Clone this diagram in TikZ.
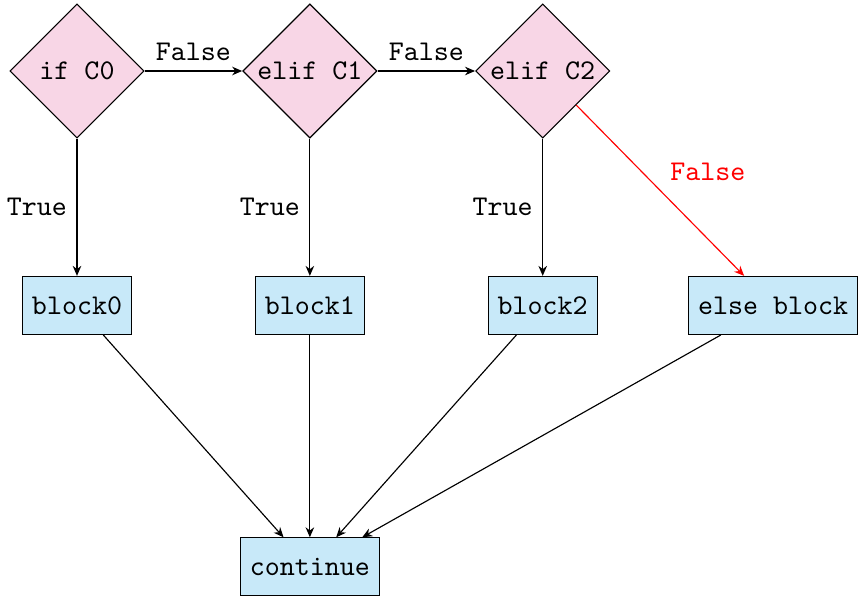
\documentclass[tikz,border=0pt]{standalone}
\usepackage{xcolor}
\usepackage{tikz}
\usetikzlibrary{arrows.meta,positioning,shapes.geometric}
\definecolor{condfill}{RGB}{248,214,230}
\definecolor{blockfill}{RGB}{200,233,249}

\begin{document}
\begin{tikzpicture}[
  font=\ttfamily,
  cond/.style={diamond, draw, fill=condfill, inner sep=0pt,
    minimum width=47pt, minimum height=47pt},
  blk/.style={draw, fill=blockfill, inner xsep=3.33pt,
    minimum height=20.3pt},
  arr/.style={-{Stealth[length=3.5pt,width=3pt]}}]
  \useasboundingbox (-26.95pt,24.85pt) rectangle (274.4pt,-183.75pt);
  \node[cond] (c0) at (0,0) {if C0};
  \node[cond, right=34.1pt of c0] (c1) {elif C1};
  \node[cond, right=34.1pt of c1] (c2) {elif C2};
  \node[blk, below=48pt of c0] (b0) {block0};
  \node[blk, below=48pt of c1] (b1) {block1};
  \node[blk, below=48pt of c2] (b2) {block2};
  \node[blk, right=31.6pt of b2] (belse) {else block};
  \node[blk, below=70.8pt of b1] (cont) {continue};
  \draw[arr] (c0) -- node[above] {False} (c1);
  \draw[arr] (c1) -- node[above] {False} (c2);
  \draw[arr] (c0) -- node[left] {True} (b0);
  \draw[arr] (c1) -- node[left] {True} (b1);
  \draw[arr] (c2) -- node[left] {True} (b2);
  \draw[arr, red] (c2) -- node[above right] {False} (belse);
  \draw[arr] (b0) -- (cont);
  \draw[arr] (b1) -- (cont);
  \draw[arr] (b2) -- (cont);
  \draw[arr] (belse) -- (cont);
\end{tikzpicture}
\end{document}
